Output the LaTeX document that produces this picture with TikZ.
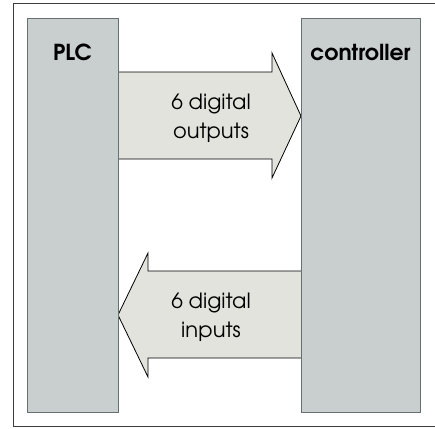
\documentclass[tikz,border=0pt]{standalone}
\usepackage{fontspec}
\setmainfont{TeX Gyre Adventor}
\usetikzlibrary{positioning}

\definecolor{unitfill}{HTML}{C9CECE}
\definecolor{unitedge}{HTML}{667070}
\definecolor{flowfill}{HTML}{E3E3DD}
\definecolor{framegrey}{HTML}{3C3C3C}

\begin{document}
\begin{tikzpicture}[x=1pt,y=-1pt,
    unit/.style={draw=unitedge, fill=unitfill, line width=0.9pt,
        inner sep=0pt, outer sep=0pt, minimum height=394pt},
    flow/.style={draw=black, fill=flowfill, line width=0.8pt, line join=miter},
    head/.style={font=\bfseries\fontsize{22}{26}\selectfont, anchor=base},
    txt/.style={font=\fontsize{21}{29}\selectfont, align=center}]

\useasboundingbox (0,0) rectangle (435,428);
\draw[framegrey, line width=1pt] (13,4) rectangle (445,426);

% signal arrows
\draw[flow] (118,72) -- (272,72) -- (272,53) -- (301,116) -- (272,178)
    -- (272,159) -- (118,159);
\draw[flow] (301,271) -- (148,271) -- (148,253) -- (118,315) -- (148,377)
    -- (148,358) -- (301,358);

% units
\node[unit, minimum width=91pt] (plc) at (72.5,215) {};
\node[unit, minimum width=119pt] (ctrl) at (360.5,215) {};

\node[head] (plclbl) at (72.5,60) {PLC};
\node[head] (ctrllbl) at (360.5,60) {controller};

\node[txt] (outs) at (211,118) {6 digital\\outputs};
\node[txt] (ins) at (211,317) {6 digital\\inputs};

\end{tikzpicture}
\end{document}
